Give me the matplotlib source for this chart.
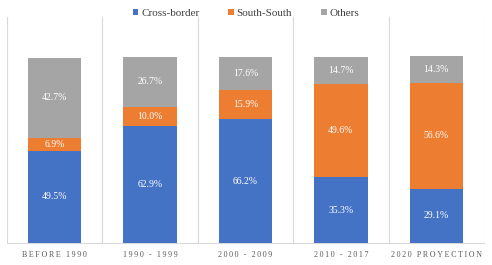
import matplotlib
matplotlib.use('Agg')
from matplotlib import pyplot as plt
import numpy as np

periods = ['BEFORE 1990', '1990 - 1999', '2000 - 2009', '2010 - 2017', '2020 PROYECTION']
cross_border = [49.5, 62.9, 66.2, 35.3, 29.1]
south_south = [6.9, 10.0, 15.9, 49.6, 56.6]
others = [42.7, 26.7, 17.6, 14.7, 14.3]

series = [('Cross-border', cross_border, '#4472C4'),
          ('South-South', south_south, '#ED7D31'),
          ('Others', others, '#A5A5A5')]

plt.rcParams['font.family'] = ['Liberation Serif', 'DejaVu Serif']

fig = plt.figure(figsize=(4.92, 2.65), dpi=100)
ax = fig.add_axes([7 / 492, 22 / 265, 477 / 492, 226 / 265])

x = np.arange(len(periods))
bottom = np.zeros(len(periods))
for name, vals, color in series:
    bars = ax.bar(x, vals, 0.56, bottom=bottom, color=color, label=name, zorder=3)
    for b, v in zip(bars, vals):
        ax.text(b.get_x() + b.get_width() / 2, b.get_y() + v / 2, '%.1f%%' % v,
                ha='center', va='center', color='white', fontsize=7, zorder=4)
    bottom += np.array(vals)

ax.set_xlim(-0.5, len(periods) - 0.5)
ax.set_ylim(0, 121)
for b in np.arange(-0.5, len(periods)):
    ax.axvline(b, color='#D9D9D9', lw=0.8, zorder=1)

# letter-spaced category labels
spaced = ['\u2009'.join(list(p)) for p in periods]
ax.set_xticks(x)
ax.set_xticklabels(spaced, fontsize=5.8, color='#595959')
ax.tick_params(axis='x', length=0, pad=6)
ax.set_yticks([])
for s in ['top', 'left', 'right']:
    ax.spines[s].set_visible(False)
ax.spines['bottom'].set_color('#D9D9D9')

fig.legend(loc='upper center', bbox_to_anchor=(0.5, 1.005), ncol=3, frameon=False,
           fontsize=8, handlelength=0.5, handleheight=0.5, handletextpad=0.25,
           columnspacing=2.6, labelcolor='#404040')

fig.savefig('out.png', dpi=100)
